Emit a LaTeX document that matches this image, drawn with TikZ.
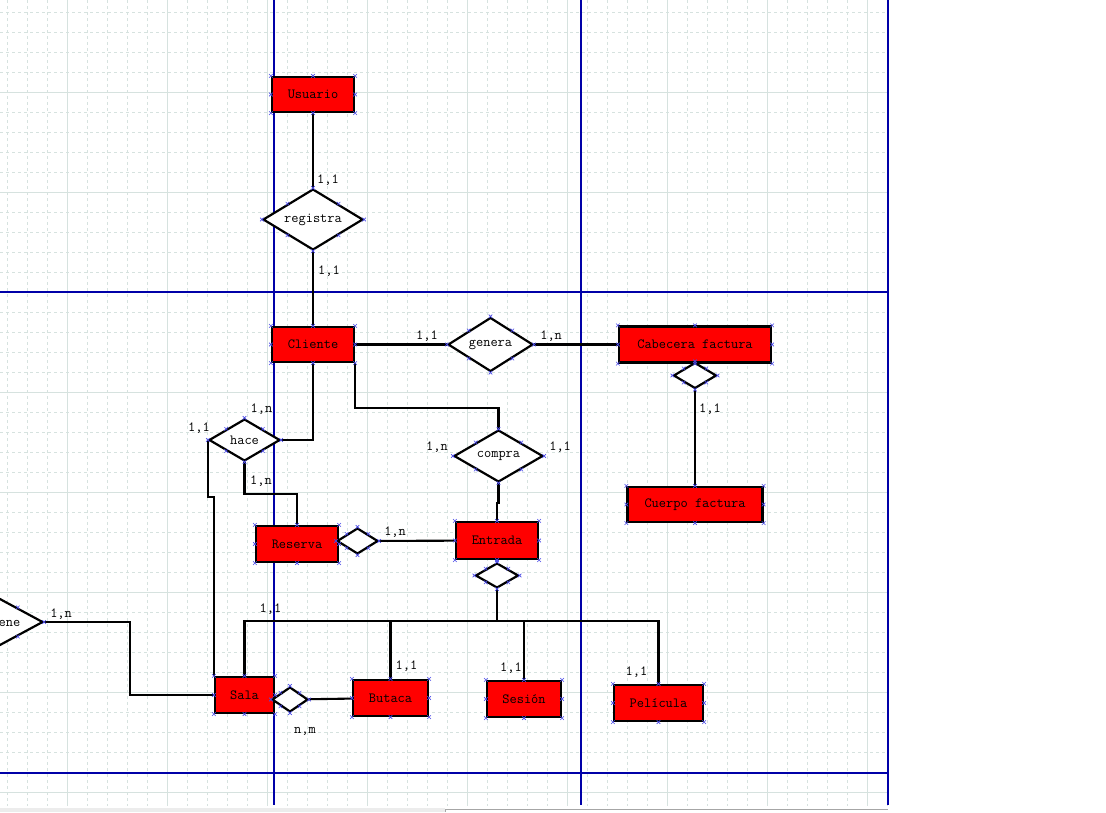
\documentclass[tikz,border=0pt]{standalone}
\usepackage{fontspec}
\usetikzlibrary{shapes.geometric,positioning}
\definecolor{rejilla}{HTML}{D6E2DF}
\definecolor{pagina}{HTML}{0000A8}
\definecolor{marcaazul}{HTML}{4A4AE8}
\newcommand{\ermarks}[1]{\foreach \a in {north,north east,east,south east,south,south west,west,north west}{\draw[marca] (#1.\a) ++(-1.8,-1.8) -- ++(3.6,3.6) ++(-3.6,0) -- ++(3.6,-3.6);}}

\begin{document}
\begin{tikzpicture}[x=1pt,y=-1pt,node distance=100pt,on grid,
	entidad/.style={rectangle,draw=black,line width=2.2pt,fill=red,inner sep=0pt,font=\ttfamily\fontsize{14}{16}\selectfont},
	relacion/.style={diamond,aspect=2,draw=black,line width=2.2pt,fill=white,inner sep=0pt,font=\ttfamily\fontsize{14}{16}\selectfont},
	linea/.style={draw=black,line width=2.1pt},
	cardinal/.style={inner sep=0pt,font=\ttfamily\fontsize{14}{16}\selectfont},
	marca/.style={draw=marcaazul,line width=0.6pt},
	menor/.style={draw=rejilla,line width=0.9pt,dash pattern=on 3pt off 3pt},
	mayor/.style={draw=rejilla,line width=1pt},
	borde/.style={draw=pagina,line width=1.2pt}]
	\useasboundingbox (0,0) rectangle (1106,812);
	\clip (0,0) rectangle (1106,812);
	\fill[white] (0,0) rectangle (1106,812);

	\foreach \i in {0,...,44} \draw[menor] (7+20*\i,0) -- (7+20*\i,806);
	\foreach \j in {0,...,39} \draw[menor] (0,12+20*\j) -- (888,12+20*\j);
	\foreach \i in {0,...,8} \draw[mayor] (67+100*\i,0) -- (67+100*\i,806);
	\foreach \j in {0,...,7} \draw[mayor] (0,92+100*\j) -- (888,92+100*\j);
	\draw[borde] (274,0) -- (274,805) (581,0) -- (581,805) (888,0) -- (888,805);
	\draw[borde] (0,292) -- (888,292) (0,773) -- (888,773);
	\fill[gray!15] (0,808) rectangle (445,812);
	\draw[gray!70,line width=1pt] (445,812) -- (445,809) -- (888,809);

	\node[entidad,minimum width=82pt,minimum height=35pt] (usuario) at (313,94.5) {Usuario};
	\node[relacion,minimum width=100pt,minimum height=61pt] (registra) [below=125pt of usuario] {registra};
	\node[entidad,minimum width=82pt,minimum height=35pt] (cliente) [below=125pt of registra] {Cliente};
	\node[relacion,minimum width=85pt,minimum height=54pt] (genera) [right=177.5pt of cliente] {genera};
	\node[entidad,minimum width=152pt,minimum height=36pt] (cabecera) [right=204.5pt of genera] {Cabecera factura};
	\node[relacion,minimum width=43pt,minimum height=26pt] (cabdiam) [below=31pt of cabecera] {};
	\node[entidad,minimum width=135pt,minimum height=35pt] (cuerpo) [below=160pt of cabecera] {Cuerpo factura};
	\node[relacion,minimum width=71pt,minimum height=42pt] (hace) [below left=95.5pt and 68.5pt of cliente] {hace};
	\node[relacion,minimum width=89pt,minimum height=52pt] (compra) [below right=111.5pt and 185.5pt of cliente] {compra};
	\node[entidad,minimum width=82pt,minimum height=36pt] (reserva) [below right=104pt and 52.5pt of hace] {Reserva};
	\node[entidad,minimum width=82pt,minimum height=37pt] (entrada) [below left=84.5pt and 1.5pt of compra] {Entrada};
	\node[relacion,minimum width=41pt,minimum height=26pt] (resdiam) [above right=3pt and 60.5pt of reserva] {};
	\node[relacion,minimum width=43pt,minimum height=25pt] (entdiam) [below=35pt of entrada] {};
	\node[entidad,minimum width=59pt,minimum height=36pt] (sala) [below=255pt of hace] {Sala};
	\node[relacion,minimum width=36pt,minimum height=25pt] (saladiam) [below right=4.5pt and 45.5pt of sala] {};
	\node[entidad,minimum width=75pt,minimum height=36pt] (butaca) [below right=3pt and 146pt of sala] {Butaca};
	\node[entidad,minimum width=74pt,minimum height=36pt] (sesion) [below right=158.5pt and 27pt of entrada] {Sesión};
	\node[entidad,minimum width=89pt,minimum height=36pt] (pelicula) [below right=4pt and 134.5pt of sesion] {Película};
	\node[relacion,minimum width=103pt,minimum height=56pt] (contiene) [above left=73pt and 253pt of sala] {contiene};

	\draw[linea] (usuario) -- (registra);
	\draw[linea] (registra) -- (cliente);
	\draw[linea] (cliente) -- (genera);
	\draw[linea] (genera) -- (cabecera);
	\draw[linea] (cabdiam) -- (cuerpo);
	\draw[linea] (cliente.south) |- (hace.east);
	\draw[linea] (hace.south) -- ++(0,32) -| (reserva.north);
	\draw[linea] (hace.west) -- ++(0,57) -| (sala.north west);
	\draw[linea] (cliente.south east) -- ++(0,45) -| (compra.north);
	\draw[linea] (compra.south) -- ++(0,20) -| (entrada.north);
	\draw[linea] (resdiam) -- (entrada);
	\path (entdiam.south) ++(0,32) coordinate (bus);
	\draw[linea] (entdiam.south) -- (bus);
	\draw[linea] (sala.north) |- (bus) -| (pelicula.north);
	\draw[linea] (butaca.north) -- (butaca.north |- bus);
	\draw[linea] (sesion.north) -- (sesion.north |- bus);
	\draw[linea] (saladiam) -- (butaca);
	\draw[linea] (contiene.east) -- ++(85.5,0) |- (sala.west);

	\path (registra.north) ++(15,-8) node[cardinal] (k1) {1,1};
	\path (registra.south) ++(16,20) node[cardinal] (k2) {1,1};
	\path (genera.west) ++(-20,-8) node[cardinal] (k3) {1,1};
	\path (genera.east) ++(17,-8) node[cardinal] (k4) {1,n};
	\path (cabdiam.south) ++(15,20) node[cardinal] (k5) {1,1};
	\path (hace.north) ++(17,-9) node[cardinal] (k6) {1,n};
	\path (hace.west) ++(-9,-12) node[cardinal] (k7) {1,1};
	\path (hace.south) ++(16.5,19) node[cardinal] (k8) {1,n};
	\path (compra.west) ++(-16,-9) node[cardinal] (k9) {1,n};
	\path (compra.east) ++(16,-9) node[cardinal] (k10) {1,1};
	\path (resdiam.east) ++(16,-9) node[cardinal] (k11) {1,n};
	\path (sala.north) ++(26,-67) node[cardinal] (k12) {1,1};
	\path (butaca.north) ++(16,-13) node[cardinal] (k13) {1,1};
	\path (sesion.north) ++(-13,-12) node[cardinal] (k14) {1,1};
	\path (pelicula.north) ++(-22,-12) node[cardinal] (k15) {1,1};
	\path (saladiam.south) ++(15,18) node[cardinal] (k16) {n,m};
	\path (contiene.east) ++(17,-8) node[cardinal] (k17) {1,n};

	\foreach \n in {usuario,registra,cliente,genera,cabecera,cabdiam,cuerpo,hace,compra,reserva,entrada,resdiam,entdiam,sala,saladiam,butaca,sesion,pelicula,contiene} {\ermarks{\n}}
\end{tikzpicture}
\end{document}
